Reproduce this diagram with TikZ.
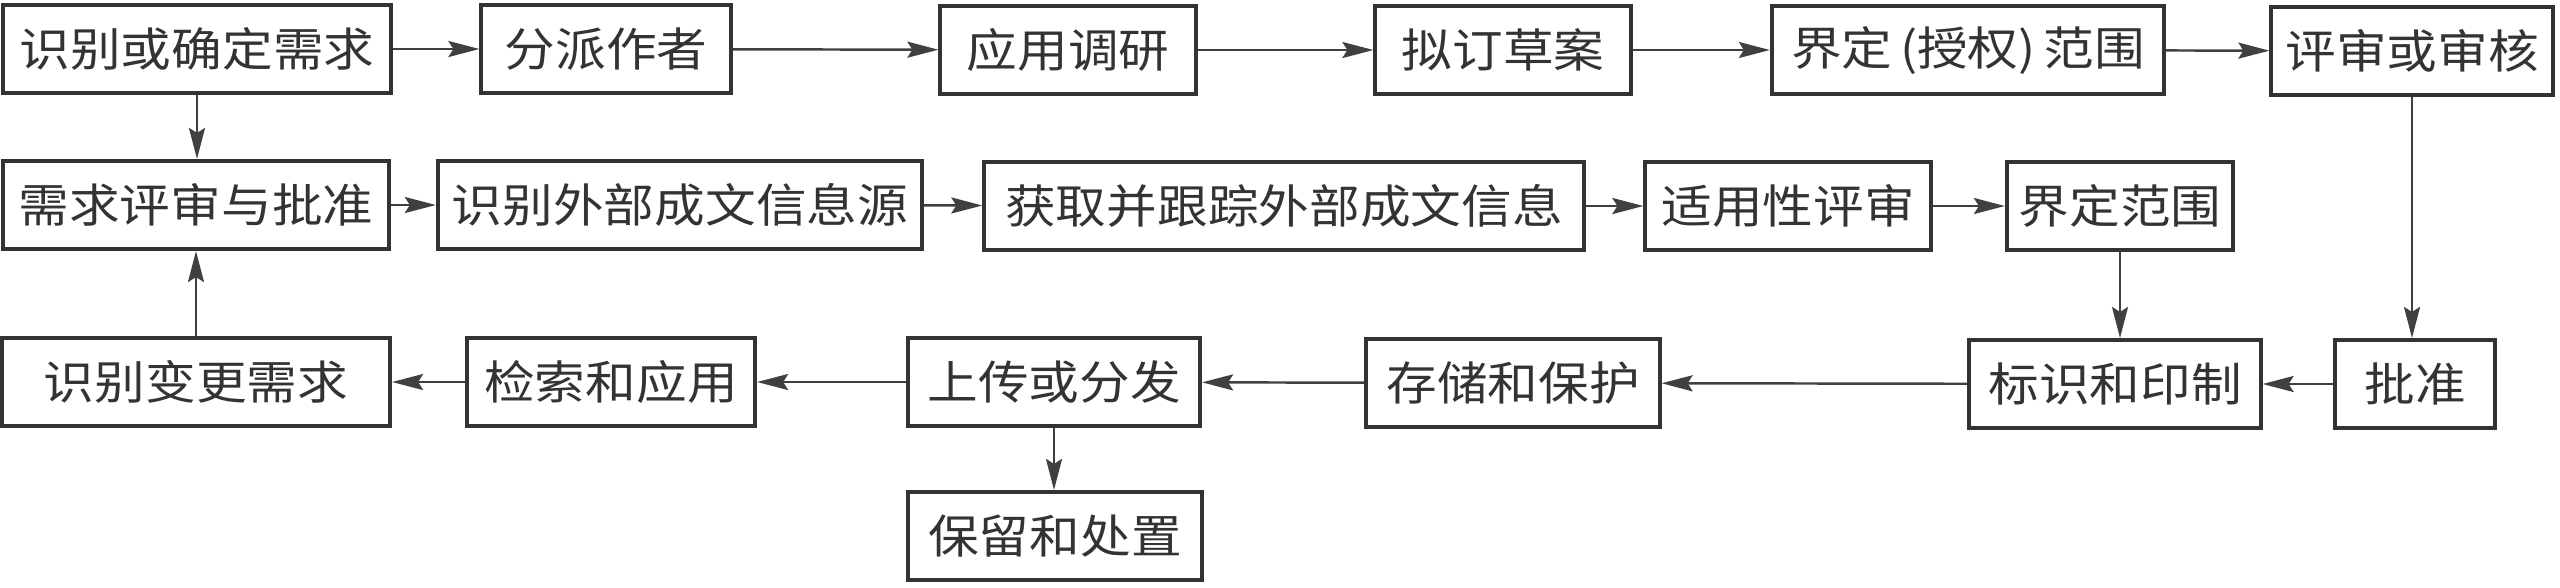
\documentclass[tikz,border=0pt]{standalone}
\usepackage{fontspec}
\newfontfamily\cjk[FakeStretch=1.1]{Noto Sans CJK SC}
\usetikzlibrary{arrows.meta}

\begin{document}
\begin{tikzpicture}[x=0.01cm, y=-0.01cm,
    box/.style={draw=black!80, line width=1.15pt, minimum height=0.88cm, inner sep=0pt, align=center, font=\cjk\fontsize{13.1pt}{15pt}\selectfont, text=black!80},
    arr/.style={-{Stealth[length=0.31cm, width=0.16cm, inset=0.05cm]}, line width=0.7pt, draw=black!75}
]
\useasboundingbox (0,0) rectangle (2560,587);
% first row
\node[box, minimum width=3.88cm] (req) at (197,49) {识别或确定需求};
\node[box, minimum width=2.49cm] (author) at (606,49) {分派作者};
\node[box, minimum width=2.55cm] (research) at (1068,50) {应用调研};
\node[box, minimum width=2.55cm] (draft) at (1503,50) {拟订草案};
\node[box, minimum width=3.92cm] (scope) at (1968,50) {界定\,(授权)\,范围};
\node[box, minimum width=2.81cm] (review) at (2412,51) {评审或审核};
% second row
\node[box, minimum width=3.86cm] (reqrev) at (196,205) {需求评审与批准};
\node[box, minimum width=4.84cm] (extsrc) at (680,205) {识别外部成文信息源};
\node[box, minimum width=5.99cm] (track) at (1284,206) {获取并跟踪外部成文信息};
\node[box, minimum width=2.85cm] (suit) at (1788,206) {适用性评审};
\node[box, minimum width=2.26cm] (extscope) at (2120,206) {界定范围};
% third row
\node[box, minimum width=3.88cm] (change) at (196,382) {识别变更需求};
\node[box, minimum width=2.88cm] (retrieve) at (611,382) {检索和应用};
\node[box, minimum width=2.92cm] (upload) at (1054,382) {上传或分发};
\node[box, minimum width=2.93cm] (store) at (1513,383) {存储和保护};
\node[box, minimum width=2.91cm] (label) at (2115,384) {标识和印制};
\node[box, minimum width=1.60cm] (approve) at (2415,384) {批准};
% last row
\node[box, minimum width=2.93cm] (retain) at (1055,536) {保留和处置};

\draw[arr] (req) -- (author);
\draw[arr] (author) -- (research);
\draw[arr] (research) -- (draft);
\draw[arr] (draft) -- (scope);
\draw[arr] (scope) -- (review);
\draw[arr] (req.south) -- (req.south |- reqrev.north);
\draw[arr] (reqrev) -- (extsrc);
\draw[arr] (extsrc) -- (track);
\draw[arr] (track) -- (suit);
\draw[arr] (suit) -- (extscope);
\draw[arr] (extscope.south) -- (extscope.south |- label.north);
\draw[arr] (review.south) -- (review.south |- approve.north);
\draw[arr] (approve) -- (label);
\draw[arr] (label) -- (store);
\draw[arr] (store) -- (upload);
\draw[arr] (upload) -- (retrieve);
\draw[arr] (retrieve) -- (change);
\draw[arr] (change.north) -- (change.north |- reqrev.south);
\draw[arr] (upload.south) -- (upload.south |- retain.north);
\end{tikzpicture}
\end{document}
